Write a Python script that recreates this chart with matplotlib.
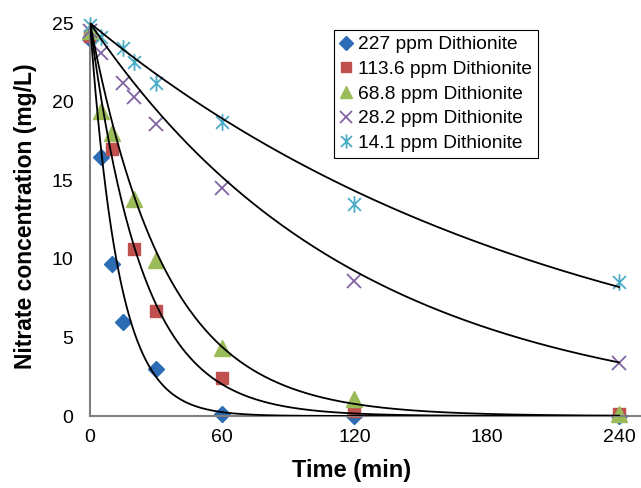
import matplotlib
matplotlib.use('Agg')
import matplotlib.pyplot as plt
from matplotlib.path import Path
import numpy as np

plt.rcParams['font.family'] = ['Liberation Sans', 'DejaVu Sans']

# measured nitrate concentrations (mg/L) vs time (min)
t_227 = [0, 5, 10, 15, 30, 60, 120, 240]
c_227 = [24.0, 16.5, 9.7, 6.0, 3.0, 0.1, 0.0, 0.0]

t_113 = [0, 10, 20, 30, 60, 120, 240]
c_113 = [24.2, 17.0, 10.6, 6.7, 2.4, 0.3, 0.1]

t_68 = [0, 5, 10, 20, 30, 60, 120, 240]
c_68 = [24.5, 19.4, 18.0, 13.8, 9.9, 4.3, 1.1, 0.1]

t_28 = [0, 5, 15, 20, 30, 60, 120, 240]
c_28 = [24.5, 23.1, 21.2, 20.3, 18.6, 14.5, 8.6, 3.4]

t_14 = [0, 5, 15, 20, 30, 60, 120, 240]
c_14 = [24.9, 24.1, 23.4, 22.5, 21.2, 18.7, 13.5, 8.5]

labels = ['227 ppm Dithionite', '113.6 ppm Dithionite', '68.8 ppm Dithionite',
          '28.2 ppm Dithionite', '14.1 ppm Dithionite']

# first-order fit curves  C = c0 * exp(-k t)
fit_c0 = [25.0, 25.0, 25.0, 25.0, 25.0]
fit_k = [0.077, 0.042, 0.029, 0.0083, 0.00464]

# star marker: an x with a vertical bar
star = Path([(-1, -1), (1, 1), (-1, 1), (1, -1), (0, -1.3), (0, 1.3)],
            [Path.MOVETO, Path.LINETO, Path.MOVETO, Path.LINETO,
             Path.MOVETO, Path.LINETO])

fig = plt.figure(figsize=(6.41, 4.88), dpi=100)
ax = fig.add_axes([0.1404, 0.1475, 0.8596, 0.8053])

ax.plot(t_227, c_227, 'D', color='#2b6cb5', ms=8, mec='#2b6cb5', label=labels[0], clip_on=False)
ax.plot(t_113, c_113, 's', color='#c0504d', ms=9, mec='#c0504d', label=labels[1], clip_on=False)
ax.plot(t_68, c_68, '^', color='#9bbb59', ms=11, mec='#9bbb59', label=labels[2], clip_on=False)
ax.plot(t_28, c_28, 'x', color='#8064a2', ms=10, mew=1.3, label=labels[3], clip_on=False)
ax.plot(t_14, c_14, ls='none', marker=star, color='#4bacc6', ms=12, mew=1.3,
        mfc='none', label=labels[4], clip_on=False)

tt = np.linspace(0, 240, 400)
for c0, k in zip(fit_c0, fit_k):
    ax.plot(tt, c0 * np.exp(-k * tt), color='black', lw=1.3, zorder=5)

ax.set_xlim(0, 250)
ax.set_ylim(0, 25)
ax.set_xticks([0, 60, 120, 180, 240])
ax.set_yticks([0, 5, 10, 15, 20, 25])
ax.tick_params(length=0, labelsize=14, pad=9)
ax.tick_params(axis='y', pad=12)
for side in ['top', 'right']:
    ax.spines[side].set_visible(False)
for side in ['left', 'bottom']:
    ax.spines[side].set_color('#7f7f7f')
    ax.spines[side].set_linewidth(1.5)

ax.set_xlabel('Time (min)', fontsize=17, fontweight='bold')
ax.set_ylabel('Nitrate concentration (mg/L)', fontsize=16.5, fontweight='bold')
ax.xaxis.set_label_coords(0.474, -0.11)
ax.yaxis.set_label_coords(-0.097, 0.508)

leg = ax.legend(loc='upper left', bbox_to_anchor=(0.442, 0.982), fontsize=13.8,
                frameon=True, fancybox=False, framealpha=1, edgecolor='black',
                handlelength=0.7, handletextpad=0.3, labelspacing=0.38,
                borderpad=0.3, borderaxespad=0, markerscale=0.85)
leg.get_frame().set_linewidth(0.8)

plt.savefig('out.png', dpi=100)
